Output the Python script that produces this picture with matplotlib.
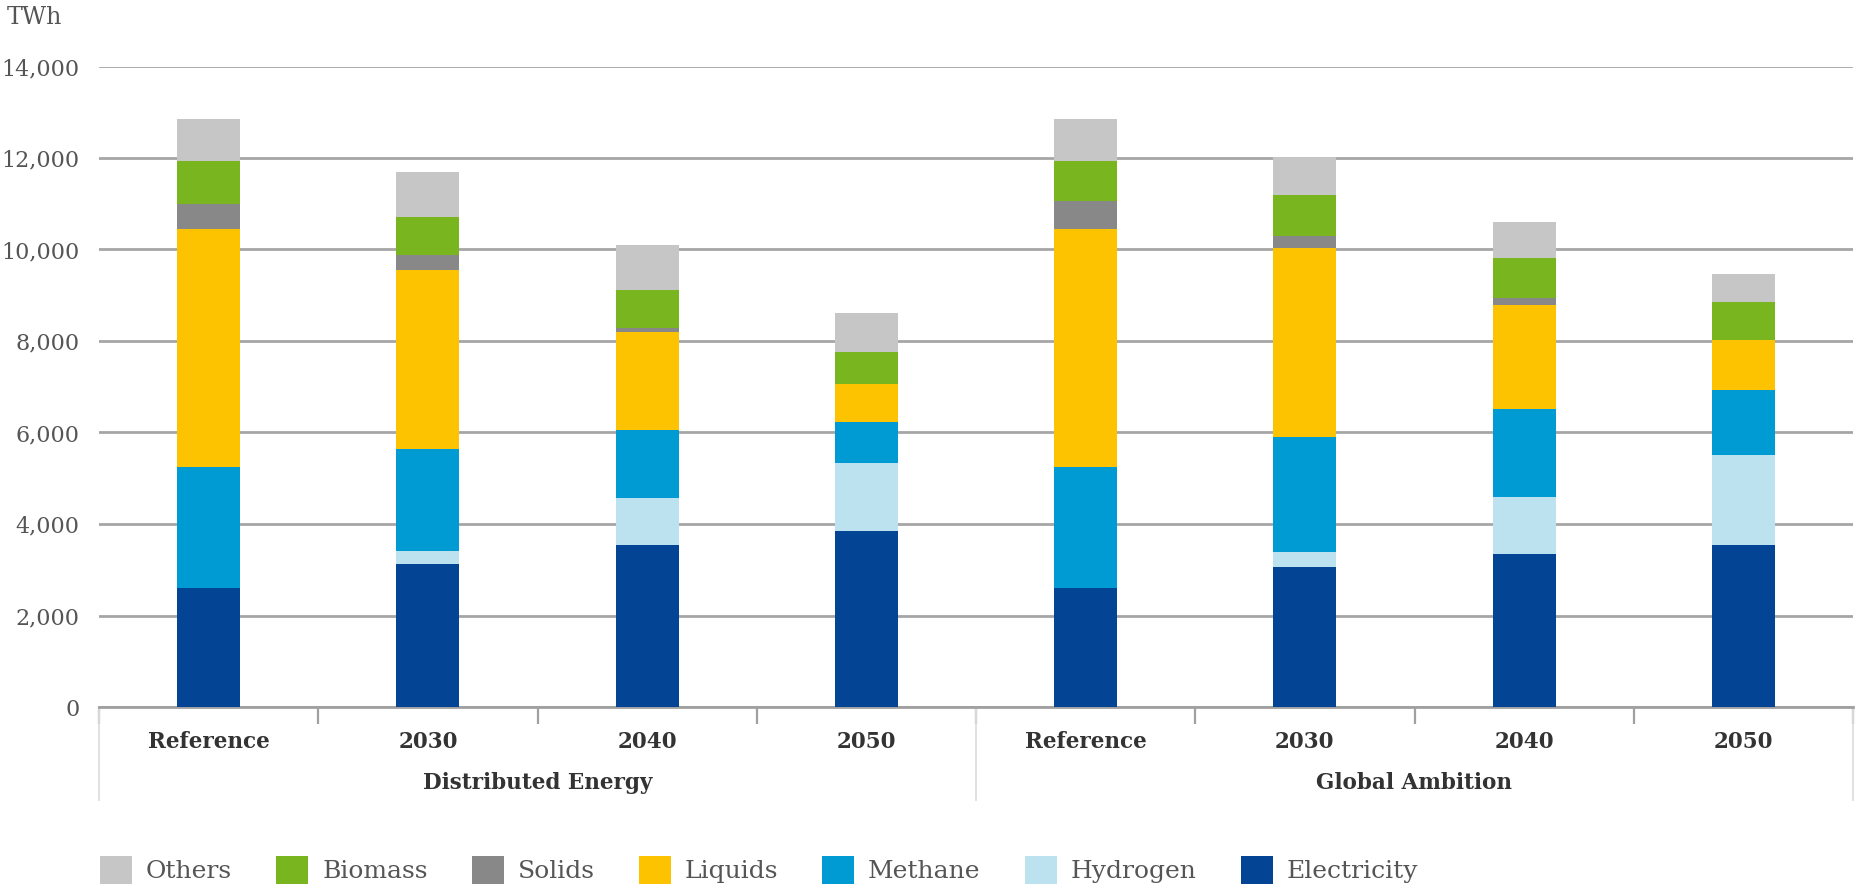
import matplotlib
matplotlib.use("Agg")
import matplotlib.pyplot as plt
import matplotlib.transforms as mtransforms
from matplotlib.patches import Patch
from matplotlib.lines import Line2D
import numpy as np

plt.rcParams['font.family'] = ['DejaVu Serif']

categories = ["Reference", "2030", "2040", "2050", "Reference", "2030", "2040", "2050"]
groups = ["Distributed Energy", "Global Ambition"]

electricity = [2600, 3130, 3550, 3840, 2600, 3060, 3340, 3540]
hydrogen    = [0, 290, 1020, 1500, 0, 320, 1240, 1960]
methane     = [2650, 2210, 1480, 890, 2650, 2530, 1940, 1420]
liquids     = [5190, 3930, 2140, 840, 5200, 4130, 2260, 1100]
solids      = [550, 310, 100, 0, 620, 260, 160, 0]
biomass     = [940, 830, 830, 700, 860, 900, 880, 830]
others      = [920, 1000, 970, 850, 920, 830, 790, 610]

series = [
    ("Electricity", electricity, "#034494"),
    ("Hydrogen", hydrogen, "#bde2ef"),
    ("Methane", methane, "#009bd2"),
    ("Liquids", liquids, "#fdc300"),
    ("Solids", solids, "#888888"),
    ("Biomass", biomass, "#78b51e"),
    ("Others", others, "#c6c6c6"),
]

W, H = 1857, 889
fig = plt.figure(figsize=(W / 100, H / 100), dpi=100)
ax = fig.add_axes([99 / W, 1 - 707 / H, (1853 - 99) / W, (707 - 66.5) / H])

x = np.arange(len(categories))
bottom = np.zeros(len(categories))
for name, vals, col in series:
    vals = np.array(vals, dtype=float)
    ax.bar(x, vals, bottom=bottom, width=0.287, color=col, zorder=3, label=name)
    bottom += vals

ax.set_xlim(-0.5, len(categories) - 0.5)
ax.set_ylim(0, 14000)
ax.set_yticks(np.arange(0, 14001, 2000))
ax.set_yticklabels([f"{v:,}" for v in range(0, 14001, 2000)])
ax.yaxis.grid(True, color="#a6a6a6", linewidth=2.0, zorder=0)
ax.set_axisbelow(True)

for s in ["top", "right", "left"]:
    ax.spines[s].set_visible(False)
ax.spines["bottom"].set_color("#a0a0a0")
ax.spines["bottom"].set_linewidth(2.0)

ax.tick_params(axis="y", length=0, pad=14, labelsize=16, labelcolor="#555555")
ax.set_xticks(x)
ax.set_xticklabels(categories, fontsize=15.5, fontweight="bold", color="#333333")
ax.tick_params(axis="x", which="major", length=0, pad=17)
ax.set_xticks(np.arange(-0.5, len(categories)), minor=True)
ax.tick_params(axis="x", which="minor", length=12, width=1.6, color="#a0a0a0")

trans = mtransforms.blended_transform_factory(ax.transData, fig.transFigure)
# group separators
for xs in [-0.5, 3.5, 7.5]:
    ax.add_line(Line2D([xs, xs], [1 - 707 / H, 1 - 800 / H], transform=trans,
                       color="#dddddd", linewidth=1.3, clip_on=False))
# group labels
for gi, g in enumerate(groups):
    ax.text(gi * 4 + 1.5, 1 - 783 / H, g, transform=trans, ha="center", va="center",
            fontsize=15.5, fontweight="bold", color="#333333")

fig.text(7 / W, 1 - 17 / H, "TWh", ha="left", va="center", fontsize=17, color="#555555")

handles = [Patch(facecolor=col, edgecolor="none", label=name) for name, vals, col in series[::-1]]
fig.legend(handles=handles, loc="center left", bbox_to_anchor=(100 / W, 1 - 870 / H),
           ncol=7, frameon=False, fontsize=18, handlelength=1.28, handleheight=1.4,
           handletextpad=0.56, columnspacing=1.76, borderpad=0, borderaxespad=0,
           labelcolor="#555555")

fig.savefig("out.png", dpi=100)
